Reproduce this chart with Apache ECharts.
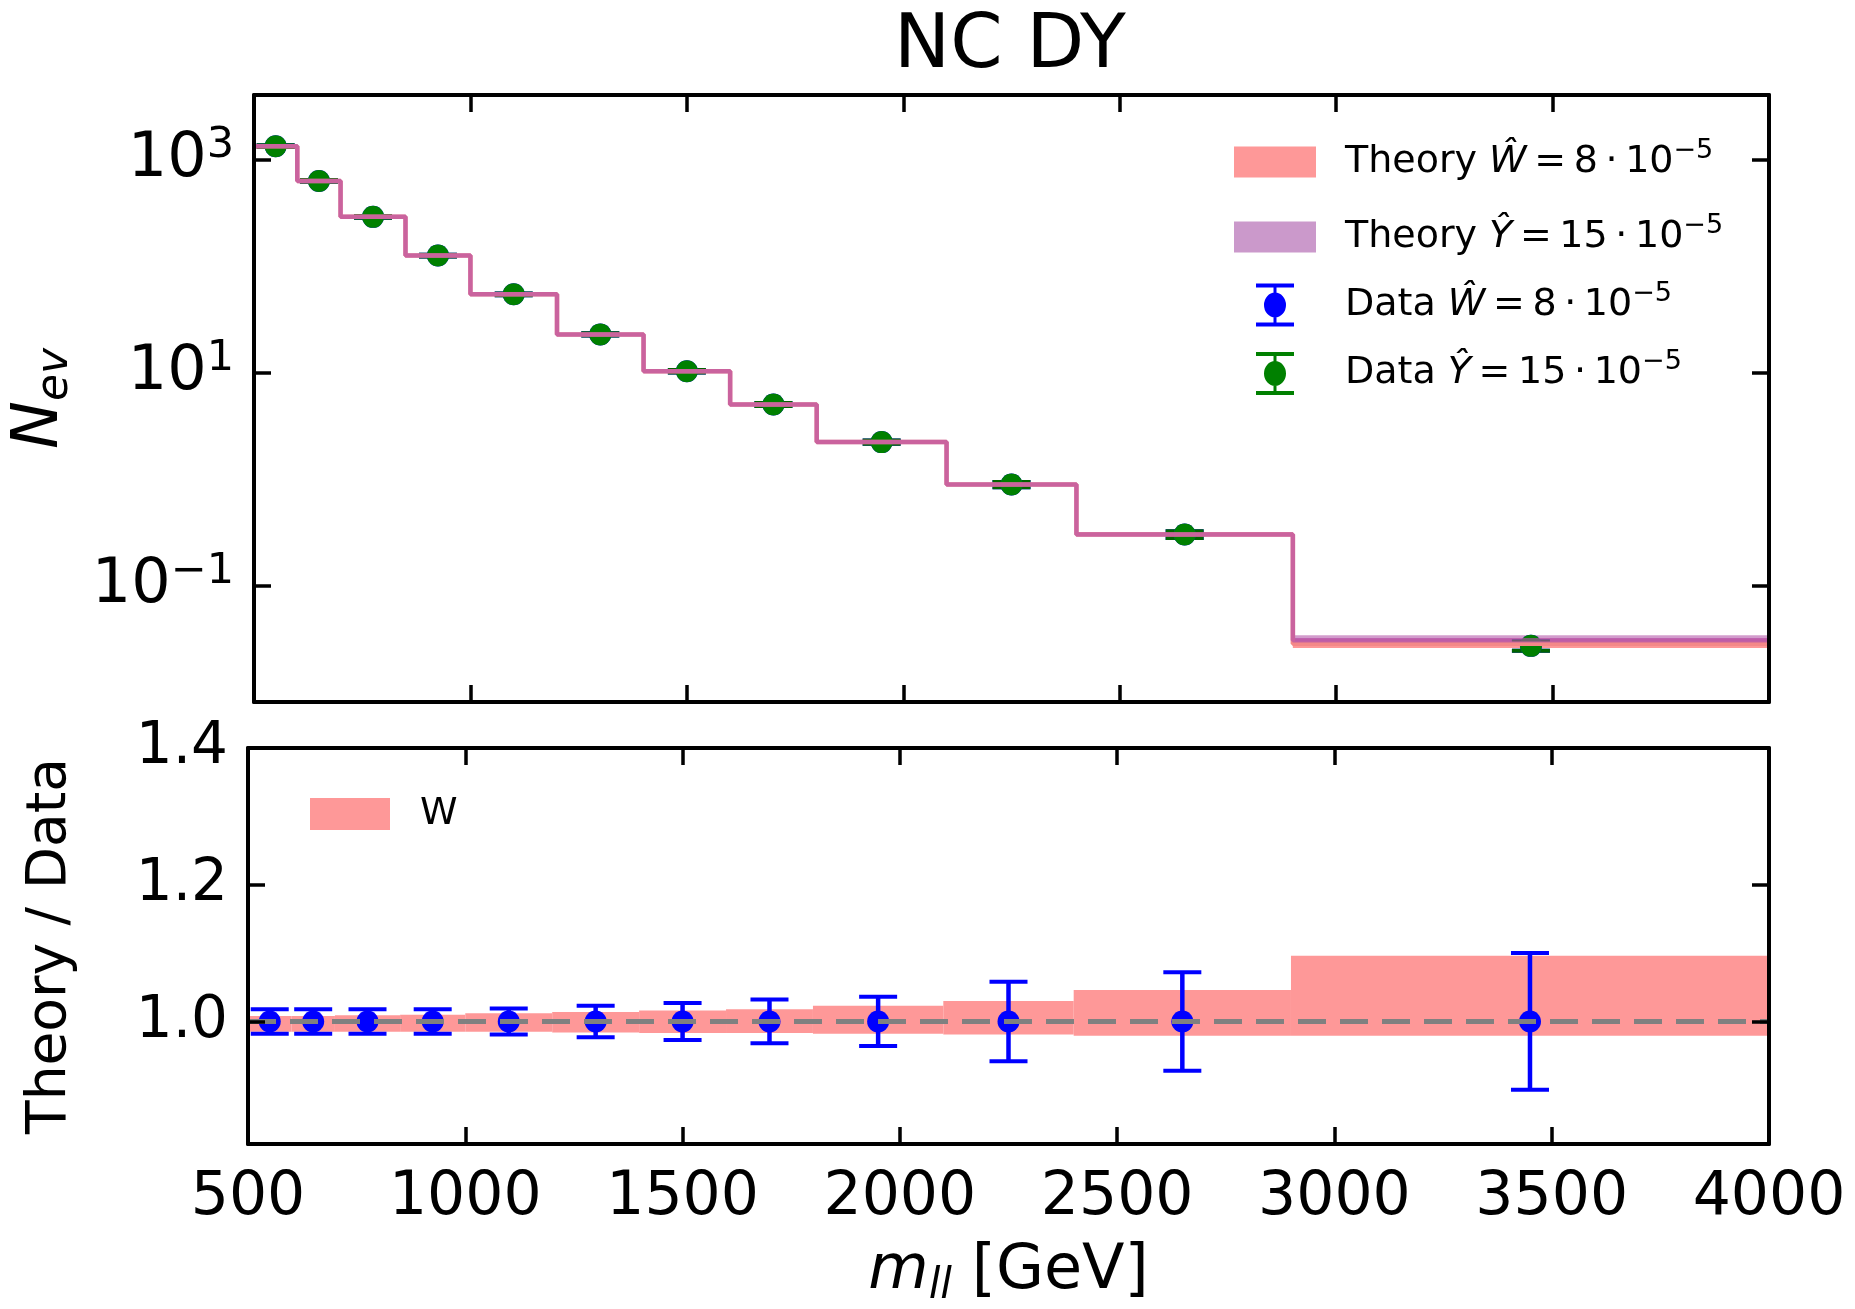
<!DOCTYPE html>
<html>
<head>
<meta charset="utf-8">
<title>NC DY</title>
<script src="https://cdn.jsdelivr.net/npm/echarts@6/dist/echarts.min.js"></script>
<style>
  html, body { margin: 0; padding: 0; background: #fff; }
  #main { width: 1855px; height: 1309px; }
</style>
</head>
<body>
<div id="main"></div>
<script>
// bins in m_ll [GeV]
const binEdges = [500, 600, 700, 850, 1000, 1200, 1400, 1600, 1800, 2100, 2400, 2900, 4000];
const binCenters = [550, 650, 775, 925, 1100, 1300, 1500, 1700, 1950, 2250, 2650, 3450];

// N_ev, pseudo-data for the two benchmarks
const dataW = [1350, 637, 293, 127, 55, 23.1, 10.4, 5.08, 2.25, 0.90, 0.305, 0.0275];
const dataY = [1350, 637, 293, 127, 55, 23.1, 10.4, 5.08, 2.25, 0.90, 0.305, 0.0275];
// relative data uncertainty per bin
const relErr = [0.018, 0.018, 0.018, 0.018, 0.019, 0.023, 0.027, 0.032, 0.036, 0.058, 0.072, 0.10];

// theory predictions (central step + band)
const theoryW = [1350, 637, 293, 127, 55, 23.1, 10.4, 5.08, 2.25, 0.90, 0.305, 0.0288];
const theoryWLo = [1330, 628, 289, 125, 54.2, 22.7, 10.2, 4.98, 2.20, 0.88, 0.298, 0.0262];
const theoryWHi = [1365, 644, 296, 128.5, 55.7, 23.4, 10.6, 5.18, 2.30, 0.925, 0.318, 0.0322];
const theoryY = [1350, 637, 293, 127, 55, 23.1, 10.4, 5.08, 2.25, 0.90, 0.305, 0.0310];
const theoryYLo = [1335, 630, 290, 125.5, 54.4, 22.8, 10.25, 5.0, 2.21, 0.885, 0.300, 0.0282];
const theoryYHi = [1368, 646, 297, 129, 56, 23.5, 10.65, 5.2, 2.31, 0.93, 0.320, 0.0345];

// ratio panel: theory / data
const ratioPts = [1, 1, 1, 1, 1, 1, 1, 1, 1, 1, 1, 1];
const ratioBandLo = [0.985, 0.985, 0.985, 0.985, 0.985, 0.984, 0.983, 0.983, 0.982, 0.981, 0.979, 0.979];
const ratioBandHi = [1.008, 1.008, 1.009, 1.010, 1.012, 1.014, 1.016, 1.018, 1.023, 1.030, 1.046, 1.096];

// tick values
const logTicks = [0.1, 10, 1000];
const ratioTicks = [1.0, 1.2, 1.4];

const FONT = 'DejaVu Sans';
const SALMON = '#fe9898';
const PURPLE = '#cb99cb';

const chart = echarts.init(document.getElementById('main'));

function bandItem(fill) {
  return function (params, api) {
    const p0 = api.coord([api.value(0), api.value(3)]);
    const p1 = api.coord([api.value(1), api.value(2)]);
    return {
      type: 'rect',
      shape: { x: p0[0], y: p0[1], width: p1[0] - p0[0], height: p1[1] - p0[1] },
      style: { fill: fill }
    };
  };
}

function errorBarItem(color) {
  return function (params, api) {
    const x = api.value(0);
    const top = api.coord([x, api.value(2)]);
    const bot = api.coord([x, api.value(1)]);
    const hw = 19;
    const st = { stroke: color, lineWidth: 4 };
    return {
      type: 'group',
      children: [
        { type: 'line', shape: { x1: top[0], y1: top[1], x2: bot[0], y2: bot[1] }, style: { stroke: color, lineWidth: 4.5 } },
        { type: 'line', shape: { x1: top[0] - hw, y1: top[1], x2: top[0] + hw, y2: top[1] }, style: st },
        { type: 'line', shape: { x1: bot[0] - hw, y1: bot[1], x2: bot[0] + hw, y2: bot[1] }, style: st }
      ]
    };
  };
}

const bandData = (lo, hi) => lo.map((v, i) => [binEdges[i], binEdges[i + 1], v, hi[i]]);
const stepData = vals => binEdges.map((x, i) => [x, vals[Math.min(i, vals.length - 1)]]);
const errData = (vals) => vals.map((v, i) => [binCenters[i], v * (1 - relErr[i]), v * (1 + relErr[i])]);
const ptData = vals => vals.map((v, i) => [binCenters[i], v]);
const ratioErrData = ratioPts.map((v, i) => [binCenters[i], v - relErr[i], v + relErr[i]]);

const sup = v => {
  const e = Math.round(Math.log10(v));
  return '{b|10}{s|' + String(e).replace('-', '\u2212') + '}';
};

const tickCommon = { show: true, inside: true, length: 17, lineStyle: { color: '#000', width: 3.5 } };
const lineCommon = { show: true, onZero: false, lineStyle: { color: '#000', width: 4 } };

const xBase = {
  type: 'value', min: 500, max: 4000, interval: 500, z: 10,
  axisLine: lineCommon, axisTick: tickCommon, splitLine: { show: false }
};

const legendRich = {
  t: { fontFamily: FONT, fontSize: 38, color: '#000', lineHeight: 50 },
  i: { fontFamily: FONT, fontSize: 38, fontStyle: 'italic', color: '#000', lineHeight: 50 },
  s: { fontFamily: FONT, fontSize: 27, color: '#000', lineHeight: 30, verticalAlign: 'top' }
};
const legendText = {
  thW: '{t|Theory }{i|\u0174}{t|\u2009=\u20098\u2009\u00b7\u200910}{s|\u22125}',
  thY: '{t|Theory }{i|\u0176}{t|\u2009=\u200915\u2009\u00b7\u200910}{s|\u22125}',
  dataW: '{t|Data }{i|\u0174}{t|\u2009=\u20098\u2009\u00b7\u200910}{s|\u22125}',
  dataY: '{t|Data }{i|\u0176}{t|\u2009=\u200915\u2009\u00b7\u200910}{s|\u22125}',
  W: '{t|W}'
};
const errIcon = 'path://M0,0H38V4H0Z M0,39H38V43H0Z M17.5,4H20.5V39H17.5Z M19,9A11,12.5 0 1,1 19,34A11,12.5 0 1,1 19,9Z';

const option = {
  backgroundColor: '#fff',
  animation: false,
  graphic: [{
    type: 'text', x: 1010, y: 48,
    style: { text: 'NC DY', font: '75px "DejaVu Sans"', fill: '#000', textAlign: 'center', textVerticalAlign: 'middle' }
  }],
  grid: [
    { left: 248, top: 95, width: 1521, height: 607 },
    { left: 248, top: 748, width: 1521, height: 397 }
  ],
  legend: [
    {
      data: [{ name: 'thW', icon: 'rect', itemStyle: { color: SALMON } }, { name: 'thY', icon: 'rect', itemStyle: { color: PURPLE } }],
      orient: 'vertical', left: 1234, top: 137, padding: 0, itemGap: 31, itemWidth: 82, itemHeight: 31,
      selectedMode: false, formatter: n => legendText[n],
      textStyle: { rich: legendRich, padding: [0, 0, 0, 24] }
    },
    {
      data: [{ name: 'dataW', icon: errIcon, itemStyle: { color: '#0000ff' } }, { name: 'dataY', icon: errIcon, itemStyle: { color: '#008000' } }],
      orient: 'vertical', left: 1256, top: 280, padding: 0, itemGap: 22, itemWidth: 38, itemHeight: 43,
      selectedMode: false, formatter: n => legendText[n],
      textStyle: { rich: legendRich, padding: [0, 0, 0, 46] }
    },
    {
      data: [{ name: 'W', icon: 'rect', itemStyle: { color: SALMON } }],
      orient: 'vertical', left: 310, top: 795, padding: 0, itemWidth: 80, itemHeight: 32,
      selectedMode: false, formatter: n => legendText[n],
      textStyle: { rich: legendRich, padding: [0, 0, 0, 25] }
    }
  ],
  xAxis: [
    Object.assign({}, xBase, { gridIndex: 0, position: 'bottom', axisLabel: { show: false } }),
    Object.assign({}, xBase, { gridIndex: 0, position: 'top', axisLabel: { show: false } }),
    Object.assign({}, xBase, {
      gridIndex: 1, position: 'bottom',
      axisLabel: { show: true, fontFamily: FONT, fontSize: 60, color: '#000', margin: 24, formatter: v => String(v) },
      name: '{m|m}{s|ll}{t| [GeV]}', nameLocation: 'middle', nameGap: 92,
      nameTextStyle: {
        rich: {
          m: { fontFamily: FONT, fontSize: 62, fontStyle: 'italic', color: '#000', lineHeight: 72 },
          s: { fontFamily: FONT, fontSize: 42, fontStyle: 'italic', color: '#000', lineHeight: 42, verticalAlign: 'bottom' },
          t: { fontFamily: FONT, fontSize: 62, color: '#000', lineHeight: 72 }
        }
      }
    }),
    Object.assign({}, xBase, { gridIndex: 1, position: 'top', axisLabel: { show: false } })
  ],
  yAxis: [
    {
      type: 'log', gridIndex: 0, position: 'left', min: 0.00817, max: 4083, z: 10,
      axisLine: lineCommon, splitLine: { show: false },
      axisTick: Object.assign({ customValues: logTicks }, tickCommon),
      axisLabel: {
        customValues: logTicks, margin: 20, formatter: sup,
        rich: {
          b: { fontFamily: FONT, fontSize: 62, color: '#000', lineHeight: 72 },
          s: { fontFamily: FONT, fontSize: 43, color: '#000', lineHeight: 42, verticalAlign: 'top' }
        }
      },
      name: '{n|N}{e|ev}', nameLocation: 'middle', nameRotate: 90, nameGap: 176,
      nameTextStyle: {
        rich: {
          n: { fontFamily: FONT, fontSize: 64, fontStyle: 'italic', color: '#000', lineHeight: 76 },
          e: { fontFamily: FONT, fontSize: 44, fontStyle: 'italic', color: '#000', lineHeight: 44, verticalAlign: 'bottom' }
        }
      }
    },
    {
      type: 'log', gridIndex: 0, position: 'right', min: 0.00817, max: 4083, z: 10,
      axisLine: lineCommon, splitLine: { show: false },
      axisTick: Object.assign({ customValues: logTicks }, tickCommon),
      axisLabel: { show: false }
    },
    {
      type: 'value', gridIndex: 1, position: 'left', min: 0.8208, max: 1.4, z: 10,
      axisLine: lineCommon, splitLine: { show: false },
      axisTick: Object.assign({ customValues: ratioTicks }, tickCommon),
      axisLabel: {
        customValues: ratioTicks, margin: 20, fontFamily: FONT, fontSize: 58, color: '#000',
        formatter: v => v.toFixed(1)
      },
      name: 'Theory / Data', nameLocation: 'middle', nameRotate: 90, nameGap: 170,
      nameTextStyle: { fontFamily: FONT, fontSize: 55, color: '#000' }
    },
    {
      type: 'value', gridIndex: 1, position: 'right', min: 0.8208, max: 1.4, z: 10,
      axisLine: lineCommon, splitLine: { show: false },
      axisTick: Object.assign({ customValues: ratioTicks }, tickCommon),
      axisLabel: { show: false }
    }
  ],
  series: [
    // upper panel: theory bands
    {
      name: 'thW', type: 'custom', xAxisIndex: 0, yAxisIndex: 0,
      itemStyle: { color: SALMON }, renderItem: bandItem('rgba(254,140,140,0.9)'),
      encode: { x: [0, 1], y: [2, 3] }, data: bandData(theoryWLo, theoryWHi)
    },
    {
      type: 'line', xAxisIndex: 0, yAxisIndex: 0, step: 'end', showSymbol: false, symbol: 'none',
      lineStyle: { color: '#f48888', width: 4.5 }, data: stepData(theoryW)
    },
    {
      name: 'thY', type: 'custom', xAxisIndex: 0, yAxisIndex: 0,
      itemStyle: { color: PURPLE }, renderItem: bandItem('rgba(180,90,170,0.6)'),
      encode: { x: [0, 1], y: [2, 3] }, data: bandData(theoryYLo, theoryYHi)
    },
    {
      type: 'line', xAxisIndex: 0, yAxisIndex: 0, step: 'end', showSymbol: false, symbol: 'none',
      lineStyle: { color: 'rgba(180,80,170,0.65)', width: 4.5 }, data: stepData(theoryY)
    },
    // upper panel: data
    {
      type: 'custom', xAxisIndex: 0, yAxisIndex: 0, renderItem: errorBarItem('#0000ff'),
      encode: { x: 0, y: [1, 2] }, data: errData(dataW)
    },
    {
      name: 'dataW', type: 'scatter', xAxisIndex: 0, yAxisIndex: 0, symbol: 'circle', symbolSize: 22,
      itemStyle: { color: '#0000ff', opacity: 1 }, data: ptData(dataW)
    },
    {
      type: 'custom', xAxisIndex: 0, yAxisIndex: 0, renderItem: errorBarItem('#006400'),
      encode: { x: 0, y: [1, 2] }, data: errData(dataY)
    },
    {
      name: 'dataY', type: 'scatter', xAxisIndex: 0, yAxisIndex: 0, symbol: 'circle', symbolSize: 22,
      itemStyle: { color: '#008000', opacity: 1 }, data: ptData(dataY)
    },
    // lower panel
    {
      name: 'W', type: 'custom', xAxisIndex: 2, yAxisIndex: 2,
      itemStyle: { color: SALMON }, renderItem: bandItem(SALMON),
      encode: { x: [0, 1], y: [2, 3] }, data: bandData(ratioBandLo, ratioBandHi)
    },
    {
      type: 'line', xAxisIndex: 2, yAxisIndex: 2, showSymbol: false, symbol: 'none',
      lineStyle: { color: '#808080', width: 5, type: [28, 14] },
      data: [[500, 1], [4000, 1]]
    },
    {
      type: 'custom', xAxisIndex: 2, yAxisIndex: 2, renderItem: errorBarItem('#0000ff'),
      encode: { x: 0, y: [1, 2] }, data: ratioErrData
    },
    {
      type: 'scatter', xAxisIndex: 2, yAxisIndex: 2, symbol: 'circle', symbolSize: 22,
      itemStyle: { color: '#0000ff', opacity: 1 }, data: ptData(ratioPts)
    }
  ]
};

chart.setOption(option);
</script>
</body>
</html>
